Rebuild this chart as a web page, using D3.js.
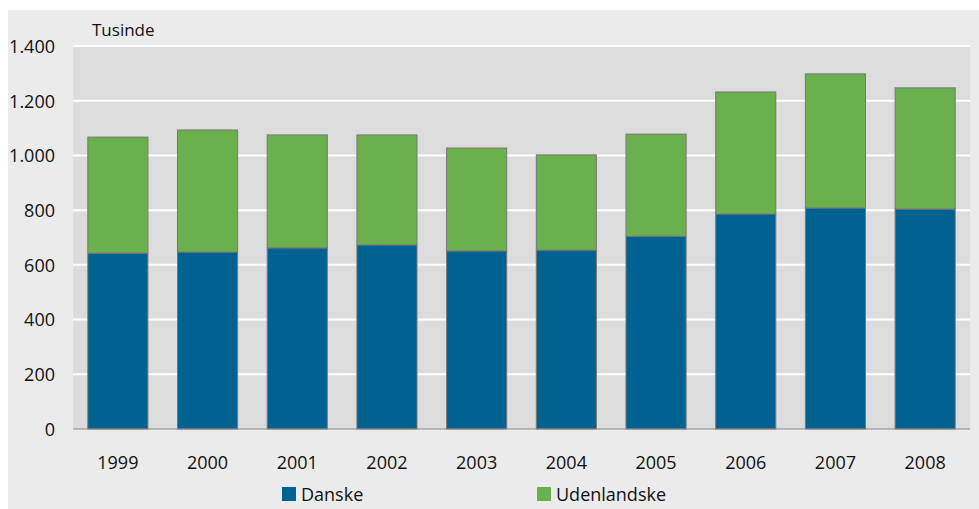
<!DOCTYPE html>
<html>
<head>
<meta charset="utf-8">
<script src="https://cdn.jsdelivr.net/npm/d3@7"></script>
<style>
  body { margin: 0; background: #fff; }
  text { font-family: "Liberation Sans Narrow", "Open Sans", sans-serif; fill: #111; }
</style>
</head>
<body>
<div id="chart"></div>
<script>
// data (thousands)
var years = ['1999', '2000', '2001', '2002', '2003', '2004', '2005', '2006', '2007', '2008'];
var danske = [643, 647, 662, 673, 651, 654, 705, 786, 808, 804];
var udenlandske = [424, 446, 413, 402, 376, 348, 373, 446, 490, 443];
var yTicks = [0, 200, 400, 600, 800, 1000, 1200, 1400];
var seriesNames = ['Danske', 'Udenlandske'];
var colors = ['#006290', '#6ab04c'];

var width = 979, height = 509;
var margin = {top: 46, right: 9, bottom: 80, left: 73};

var svg = d3.select('#chart').append('svg')
    .attr('width', width)
    .attr('height', height);

svg.append('rect')
    .attr('x', 8).attr('y', 10)
    .attr('width', width - 8).attr('height', height - 10)
    .attr('fill', '#ebebeb');

var x = d3.scaleBand()
    .domain(years)
    .range([margin.left, width - margin.right])
    .paddingInner(0.33)
    .paddingOuter(0.165);

var y = d3.scaleLinear()
    .domain([0, 1400])
    .range([height - margin.bottom, margin.top]);

svg.append('rect')
    .attr('x', margin.left).attr('y', margin.top)
    .attr('width', width - margin.right - margin.left)
    .attr('height', y(0) - margin.top)
    .attr('fill', '#dcdcdc');

// grid
svg.append('g').selectAll('line')
    .data(yTicks.filter(function(d){ return d > 0; }))
    .enter().append('line')
    .attr('x1', margin.left).attr('x2', width - margin.right)
    .attr('y1', function(d){ return y(d); })
    .attr('y2', function(d){ return y(d); })
    .attr('stroke', '#fff')
    .attr('stroke-width', 2);

var fmt = function(d){ return d3.format(',')(d).replace(/,/g, '.'); };

var yAxis = d3.axisLeft(y).tickValues(yTicks).tickSize(0).tickPadding(18).tickFormat(fmt);
var yG = svg.append('g')
    .attr('transform', 'translate(' + margin.left + ',0)')
    .call(yAxis);
yG.select('.domain').remove();
yG.selectAll('text').style('font-size', '18px').attr('dy', '0.35em');

// stacked bars
var rows = years.map(function(yr, i){
    return {year: yr, Danske: danske[i], Udenlandske: udenlandske[i]};
});
var stack = d3.stack().keys(seriesNames)(rows);

svg.append('g').selectAll('g')
    .data(stack)
    .enter().append('g')
    .attr('fill', function(d, i){ return colors[i]; })
    .selectAll('rect')
    .data(function(d){ return d; })
    .enter().append('rect')
    .attr('x', function(d){ return x(d.data.year); })
    .attr('width', x.bandwidth())
    .attr('y', function(d){ return y(d[1]); })
    .attr('height', function(d){ return y(d[0]) - y(d[1]); })
    .attr('stroke', '#777')
    .attr('stroke-width', 1);

// zero line
svg.append('line')
    .attr('x1', margin.left).attr('x2', width - margin.right)
    .attr('y1', y(0)).attr('y2', y(0))
    .attr('stroke', '#888').attr('stroke-width', 1);

var xAxis = d3.axisBottom(x).tickSize(0).tickPadding(27);
var xG = svg.append('g')
    .attr('transform', 'translate(0,' + y(0) + ')')
    .call(xAxis);
xG.select('.domain').remove();
xG.selectAll('text').style('font-size', '18px');

svg.append('text')
    .attr('x', 92).attr('y', 36)
    .style('font-size', '17px')
    .text('Tusinde');

// legend
var legendX = [282, 537];
var legend = svg.append('g').selectAll('g')
    .data(seriesNames)
    .enter().append('g')
    .attr('transform', function(d, i){ return 'translate(' + legendX[i] + ',487)'; });
legend.append('rect')
    .attr('width', 14).attr('height', 14)
    .attr('fill', function(d, i){ return colors[i]; });
legend.append('text')
    .attr('x', 19).attr('y', 14)
    .style('font-size', '18px')
    .text(function(d){ return d; });
</script>
</body>
</html>
